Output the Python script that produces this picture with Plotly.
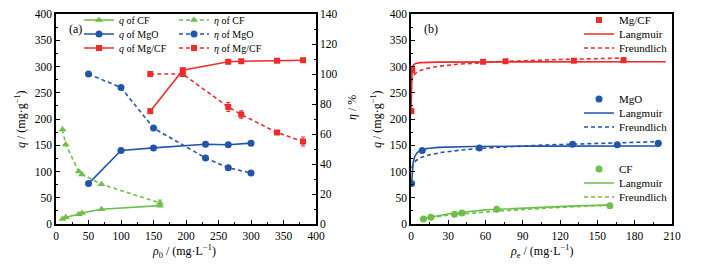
import plotly.graph_objects as go
import numpy as np

# ---------------- data (panel a) ----------------
c0_cf = [10, 15, 35, 40, 70, 160]
q_cf = [9.5, 13, 18.5, 21, 28, 35]
eta_cf = [63, 53, 35, 33, 26.5, 14]
eta_cf_err = [0, 0, 0, 0, 0, 2]

c0_mgo = [50, 100, 150, 230, 265, 300]
q_mgo = [77, 140, 145, 152, 151, 154]
eta_mgo = [100, 91, 64, 44, 37.5, 34]
eta_mgo_err = [0, 0, 0, 0, 0, 1.5]

c0_mgcf = [145, 195, 265, 285, 340, 380]
q_mgcf = [215, 293, 309, 310, 311, 312]
eta_mgcf = [100, 100, 78, 73, 61, 55]
eta_mgcf_err = [0, 0, 3, 2.5, 0, 3]

# ---------------- data (panel b) ----------------
ce_cf = [10, 16, 35, 41, 69, 160]
ce_mgo = [0.5, 9, 55, 130, 166, 199]
ce_mgcf = [0.3, 1, 58, 76, 131, 171]

# fitted isotherm parameters
lang_mgcf = (309, 25)      # qm, K
freu_mgcf = (278, 0.025)   # Kf, 1/n
lang_mgo = (149, 2.1)
freu_mgo = (110, 0.067)
lang_cf = (45, 0.025)
freu_cf = (3.5, 0.46)

RED = '#EE2A2A'
BLUE = '#2155AA'
GREEN = '#6CBF48'
FONT = 'Liberation Serif'
DASH = '4px,3px'

def langmuir(c, p):
    return p[0] * p[1] * c / (1 + p[1] * c)

def freundlich(c, p):
    return p[0] * c ** p[1]

def crange(a, b):
    return np.unique(np.concatenate([np.geomspace(a, b, 200), np.linspace(a, b, 200)]))

# the page body has an 8px default margin; the figure is sized so that the
# plot area lands at window pixels x 56..672, y 14..224
OFF = 8
W, H = 705 - OFF, 265 - OFF
L, T = 56 - OFF, 14 - OFF
R, B = 705 - 672, 265 - 224
PW, PH = 672 - 56, 224 - 14

def px(xp):
    return (xp - 56) / PW

def py(yp):
    return (224 - yp) / PH

fig = go.Figure()
legends = {}
lcount = [0]

def add_leg(x_text, y_row, size):
    lcount[0] += 1
    name = 'legend' if lcount[0] == 1 else 'legend%d' % lcount[0]
    legends[name] = dict(x=px(x_text - 40), y=py(y_row), xanchor='left', yanchor='middle',
                         xref='paper', yref='paper', bgcolor='rgba(0,0,0,0)',
                         font=dict(family=FONT, size=size, color='black'),
                         itemwidth=30, tracegroupgap=0)
    return name

# ---------- panel a ----------
def err(e, color):
    return dict(type='data', array=e, visible=True, color=color, thickness=1, width=2)

specs_a = [
    ('<i>q</i> of CF', c0_cf, q_cf, None, GREEN, 'triangle-up', 'solid', 'y', 119, 20),
    ('<i>η</i> of CF', c0_cf, eta_cf, eta_cf_err, GREEN, 'triangle-up', DASH, 'y2', 214, 20),
    ('<i>q</i> of MgO', c0_mgo, q_mgo, None, BLUE, 'circle', 'solid', 'y', 119, 34),
    ('<i>η</i> of MgO', c0_mgo, eta_mgo, eta_mgo_err, BLUE, 'circle', DASH, 'y2', 214, 34),
    ('<i>q</i> of Mg/CF', c0_mgcf, q_mgcf, None, RED, 'square', 'solid', 'y', 119, 48),
    ('<i>η</i> of Mg/CF', c0_mgcf, eta_mgcf, eta_mgcf_err, RED, 'square', DASH, 'y2', 214, 48),
]
for name, xs, ys, e, col, sym, dash, yax, lx, ly in specs_a:
    leg = add_leg(lx, ly, 10)
    fig.add_trace(go.Scatter(
        x=xs, y=ys, name=name, mode='lines+markers', xaxis='x', yaxis=yax,
        line=dict(color=col, width=1.6, dash=dash),
        marker=dict(color=col, symbol=sym, size=7 if sym != 'square' else 6),
        error_y=err(e, col) if e else None,
        legend=leg))

# ---------- panel b ----------
groups_b = [
    ('Mg/CF', ce_mgcf, q_mgcf, RED, 'square', lang_mgcf, (0.1, 205), freu_mgcf, (0.4, 175), 20),
    ('MgO', ce_mgo, q_mgo, BLUE, 'circle', lang_mgo, (0.5, 200), freu_mgo, (0.6, 200), 99),
    ('CF', ce_cf, q_cf, GREEN, 'circle', lang_cf, (10, 160), freu_cf, (10, 160), 169),
]
for name, xs, ys, col, sym, lp, lr, fp, fr, y0 in groups_b:
    cl = crange(*lr)
    cf = crange(*fr)
    leg = add_leg(619, y0 + 28, 11)
    fig.add_trace(go.Scatter(x=cf, y=freundlich(cf, fp), mode='lines', name='Freundlich',
                             xaxis='x2', yaxis='y3', line=dict(color=col, width=1.6, dash=DASH),
                             legend=leg))
    leg = add_leg(619, y0 + 14, 11)
    fig.add_trace(go.Scatter(x=cl, y=langmuir(cl, lp), mode='lines', name='Langmuir',
                             xaxis='x2', yaxis='y3', line=dict(color=col, width=1.6),
                             legend=leg))
    leg = add_leg(619, y0, 11)
    fig.add_trace(go.Scatter(x=xs, y=ys, mode='markers', name=name,
                             xaxis='x2', yaxis='y3',
                             marker=dict(color=col, symbol=sym, size=7 if sym != 'square' else 6),
                             legend=leg))

tickfont = dict(family=FONT, size=11.5, color='black')
axis_common = dict(showline=True, linecolor='black', linewidth=1.6, ticks='inside', ticklen=4,
                   tickwidth=1.3, tickcolor='black', showgrid=False, zeroline=False,
                   tickfont=tickfont)

xa_dom = [0, px(316)]
xb_dom = [px(411), 1]

fig.update_layout(
    width=W, height=H, margin=dict(l=L, r=R, t=T, b=B, autoexpand=False),
    plot_bgcolor='white', paper_bgcolor='white', showlegend=True,
    xaxis=dict(domain=xa_dom, range=[0, 400], dtick=50, anchor='y', mirror=True,
               minor=dict(ticks='inside', ticklen=2.5, dtick=25, tickcolor='black'),
               **axis_common),
    yaxis=dict(domain=[0, 1], range=[0, 400], dtick=50, anchor='x',
               minor=dict(ticks='inside', ticklen=2.5, dtick=25, tickcolor='black'),
               **axis_common),
    yaxis2=dict(range=[0, 140], dtick=20, anchor='x', overlaying='y', side='right',
                minor=dict(ticks='inside', ticklen=2.5, dtick=10, tickcolor='black'),
                **axis_common),
    xaxis2=dict(domain=xb_dom, range=[0, 210], dtick=30, anchor='y3', mirror=True,
                minor=dict(ticks='inside', ticklen=2.5, dtick=15, tickcolor='black'),
                **axis_common),
    yaxis3=dict(domain=[0, 1], range=[0, 400], dtick=50, anchor='x2', mirror=True,
                minor=dict(ticks='inside', ticklen=2.5, dtick=25, tickcolor='black'),
                **axis_common),
    **legends,
)

af = dict(family=FONT, size=12, color='black')
annots = [
    dict(x=px(75), y=py(29), text='(a)', textangle=0),
    dict(x=px(431), y=py(29), text='(b)', textangle=0),
    dict(x=px(20), y=py(119), text='<i>q</i> / (mg·g<sup>−1</sup>)', textangle=-90),
    dict(x=px(352), y=py(108), text='<i>η</i> / %', textangle=-90),
    dict(x=px(376), y=py(119), text='<i>q</i> / (mg·g<sup>−1</sup>)', textangle=-90),
    dict(x=px(184), y=py(251), text='<i>ρ</i><sub>0</sub> / (mg·L<sup>−1</sup>)', textangle=0),
    dict(x=px(541), y=py(251), text='<i>ρ</i><sub>e</sub> / (mg·L<sup>−1</sup>)', textangle=0),
]
for a in annots:
    fig.add_annotation(xref='paper', yref='paper', showarrow=False, font=af,
                       xanchor='center', yanchor='middle', **a)

fig.write_html('out.html')
